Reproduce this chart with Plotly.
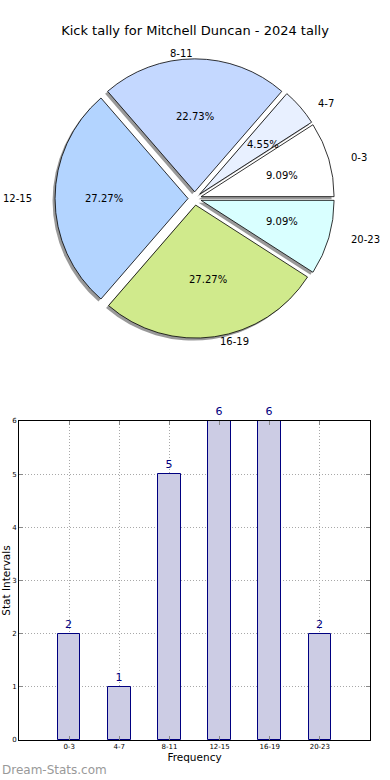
import math
import plotly.graph_objects as go

categories = ["0-3", "4-7", "8-11", "12-15", "16-19", "20-23"]
values = [2, 1, 5, 6, 6, 2]
pie_colors = ["#ffffff", "#e8f0ff", "#c4d8ff", "#b3d4ff", "#d0ea8c", "#d9ffff"]
title_text = "Kick tally for Mitchell Duncan - 2024 tally"

W, H = 390, 780
FONT = "DejaVu Sans"

# pie geometry (pixels); the reference pie is slightly elliptical, so text uses Rx/Ry
cx, cy = 194.7, 198.5
Rx, Ry = 140, 126
R = 133
pull = 0.05
pct_dist, lab_dist = 0.6, 1.1
# plotly counterclockwise pies end the first slice at rotation + its angle
rot = 90 - 360 * values[0] / sum(values)


def dom(cxp, cyp, half):
    return dict(x=[(cxp - half) / W, (cxp + half) / W],
                y=[1 - (cyp + half) / H, 1 - (cyp - half) / H])


half = R * (1 + pull)
common = dict(labels=categories, values=values, sort=False,
              direction="counterclockwise", rotation=rot, pull=[pull] * len(values))
fig = go.Figure()

# shadow (matplotlib shadow=True style)
fig.add_trace(go.Pie(
    **common, domain=dom(cx - 2.5, cy + 2.5, half),
    marker=dict(colors=["rgba(70,70,70,0.55)"] * len(values), line=dict(width=0)),
    textinfo="none", hoverinfo="skip", showlegend=False))

# main pie
fig.add_trace(go.Pie(
    **common, domain=dom(cx, cy, half),
    marker=dict(colors=pie_colors, line=dict(color="black", width=0.8)),
    textinfo="none", hovertemplate="%{label}: %{value} (%{percent:.2%})<extra></extra>",
    showlegend=False))

# text positions like matplotlib (pctdistance 0.6, labeldistance 1.1)
annotations = []
total = float(sum(values))
theta1 = 0.0
for lab, v in zip(categories, values):
    frac = v / total
    theta2 = theta1 + frac
    thetam = 2 * math.pi * 0.5 * (theta1 + theta2)
    c, s = math.cos(thetam), math.sin(thetam)
    px = cx + (pull + pct_dist) * Rx * c
    py = cy - (pull + pct_dist) * Ry * s
    annotations.append(dict(text=f"{100 * frac:.2f}%", x=px / W, y=1 - py / H,
                            xref="paper", yref="paper", showarrow=False,
                            xanchor="center", yanchor="middle",
                            font=dict(family=FONT, size=10, color="black")))
    lx = cx + (pull + lab_dist) * Rx * c
    ly = cy - (pull + lab_dist) * Ry * s
    annotations.append(dict(text=lab, x=lx / W, y=1 - ly / H,
                            xref="paper", yref="paper", showarrow=False,
                            xanchor="left" if c > 1e-9 else "right", yanchor="middle",
                            font=dict(family=FONT, size=10, color="black")))
    theta1 = theta2

annotations.append(dict(text="Dream-Stats.com", xref="paper", yref="paper",
                        x=0, y=1 - 770 / H, xanchor="left", yanchor="middle", showarrow=False,
                        font=dict(family=FONT, size=12, color="#999999")))

# bar chart
fig.add_trace(go.Bar(
    x=categories, y=values, width=0.45, xaxis="x", yaxis="y",
    marker=dict(color="#ccccE4", line=dict(color="#000080", width=1)),
    text=[str(v) for v in values], textposition="outside",
    textfont=dict(family=FONT, size=11, color="#000080"),
    cliponaxis=False, showlegend=False,
    hovertemplate="%{x}: %{y}<extra></extra>"))

axis_common = dict(showgrid=True, gridcolor="#a8a8a8", griddash="1px,2px", gridwidth=1,
                   showline=True, linecolor="black", linewidth=1, mirror="ticks",
                   ticks="inside", ticklen=4, tickcolor="#888888",
                   tickfont=dict(family=FONT, size=7, color="black"), automargin=False,
                   zeroline=False, fixedrange=True)

fig.update_layout(
    width=W, height=H, margin=dict(l=0, r=0, t=0, b=0, autoexpand=False),
    paper_bgcolor="white", plot_bgcolor="white",
    font=dict(family=FONT, color="black"),
    title=dict(text=title_text, x=0.5, xanchor="center", y=1 - 30 / H, yanchor="middle",
               font=dict(family=FONT, size=13, color="black")),
    xaxis=dict(domain=[19 / W, 370 / W], range=[-1, 6], type="category",
               title=dict(text="Frequency", font=dict(family=FONT, size=10.5), standoff=3),
               **axis_common),
    yaxis=dict(domain=[1 - 740 / H, 1 - 421 / H], range=[0, 6], dtick=1,
               title=dict(text="Stat Intervals", font=dict(family=FONT, size=10.5), standoff=0),
               **axis_common),
    bargap=0,
    annotations=annotations,
)

fig.write_html("out.html", post_script="document.body.style.margin='0';",
               config={"displayModeBar": False})
